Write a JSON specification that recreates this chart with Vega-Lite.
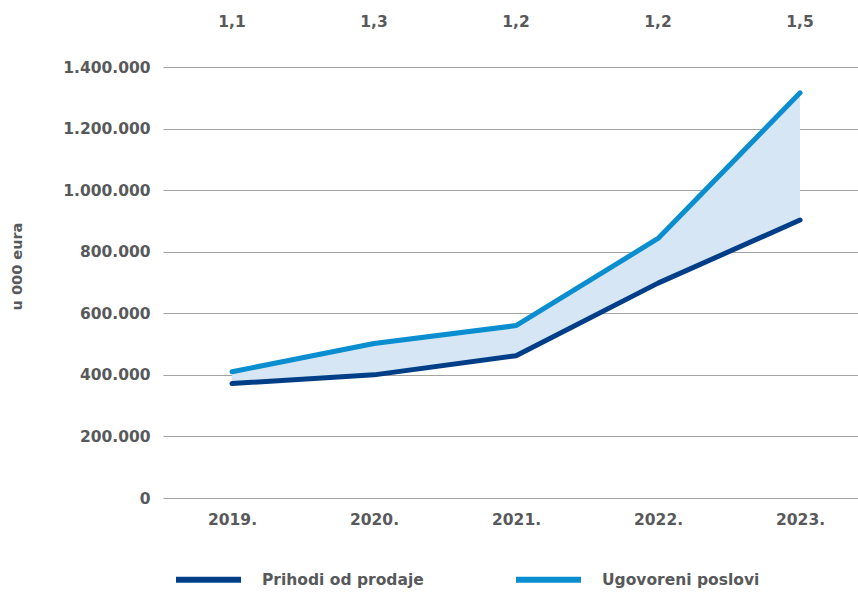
{
  "$schema": "https://vega.github.io/schema/vega-lite/v6.json",
  "autosize": {"type": "none"},
  "padding": {"left": 163, "top": 67, "right": 0, "bottom": 96},
  "width": 695,
  "height": 431,
  "config": {
    "locale": {"number": {"decimal": ",", "thousands": ".", "grouping": [3], "currency": ["", " €"]}},
    "view": {"stroke": null},
    "font": "DejaVu Sans",
    "axis": {"labelFont": "DejaVu Sans", "labelFontWeight": "bold", "labelColor": "#58595b", "labelFontSize": 15.5, "titleFont": "DejaVu Sans"}
  },
  "data": {
    "values": [
      {"godina": 2019, "Prihodi od prodaje": 372000, "Ugovoreni poslovi": 410000, "omjer": "1,1"},
      {"godina": 2020, "Prihodi od prodaje": 400000, "Ugovoreni poslovi": 502000, "omjer": "1,3"},
      {"godina": 2021, "Prihodi od prodaje": 462000, "Ugovoreni poslovi": 560000, "omjer": "1,2"},
      {"godina": 2022, "Prihodi od prodaje": 698000, "Ugovoreni poslovi": 843000, "omjer": "1,2"},
      {"godina": 2023, "Prihodi od prodaje": 903000, "Ugovoreni poslovi": 1316000, "omjer": "1,5"}
    ]
  },
  "encoding": {
    "x": {
      "field": "godina", "type": "quantitative",
      "scale": {"domain": [2018.514, 2023.408], "nice": false, "zero": false},
      "axis": {"values": [2019, 2020, 2021, 2022, 2023], "format": "d", "labelExpr": "datum.label + '.'", "title": null, "grid": false, "domain": false, "ticks": false, "labelPadding": 14}
    }
  },
  "layer": [
    {
      "mark": {"type": "area", "color": "#d6e6f5", "opacity": 1},
      "encoding": {
        "y": {
          "field": "Prihodi od prodaje", "type": "quantitative",
          "scale": {"domain": [0, 1400000], "nice": false},
          "axis": {
            "values": [0, 200000, 400000, 600000, 800000, 1000000, 1200000, 1400000],
            "format": ",d",
            "title": "u 000 eura",
            "titleFontSize": 14.5, "titleFontWeight": "bold", "titleColor": "#58595b",
            "titleX": -146, "titleY": 199, "titleAngle": -90, "titleAlign": "center", "titleBaseline": "middle",
            "grid": true, "gridColor": "#a3a3a3", "gridWidth": 1.2, "gridOpacity": 1,
            "domain": false, "ticks": false, "labelPadding": 13
          }
        },
        "y2": {"field": "Ugovoreni poslovi"}
      }
    },
    {
      "transform": [{"fold": ["Prihodi od prodaje", "Ugovoreni poslovi"], "as": ["serija", "iznos"]}],
      "mark": {"type": "line", "strokeWidth": 5, "strokeCap": "round", "strokeJoin": "round"},
      "encoding": {
        "y": {"field": "iznos", "type": "quantitative"},
        "color": {
          "field": "serija", "type": "nominal",
          "scale": {"domain": ["Prihodi od prodaje", "Ugovoreni poslovi"], "range": ["#003f87", "#0a8ed0"]},
          "legend": {
            "title": null, "orient": "none", "legendX": 10, "legendY": 477, "direction": "horizontal", "columns": 2,
            "symbolType": "stroke", "symbolSize": 4225, "symbolStrokeWidth": 6,
            "labelFont": "DejaVu Sans", "labelFontWeight": "bold", "labelFontSize": 15.5, "labelColor": "#58595b",
            "labelOffset": 18, "labelLimit": 0, "columnPadding": 80, "padding": 0
          }
        }
      }
    },
    {
      "mark": {"type": "text", "font": "DejaVu Sans", "fontWeight": "bold", "fontSize": 15.5, "color": "#58595b", "baseline": "middle", "align": "center"},
      "encoding": {
        "y": {"datum": 1546000, "type": "quantitative"},
        "text": {"field": "omjer"}
      }
    }
  ]
}
